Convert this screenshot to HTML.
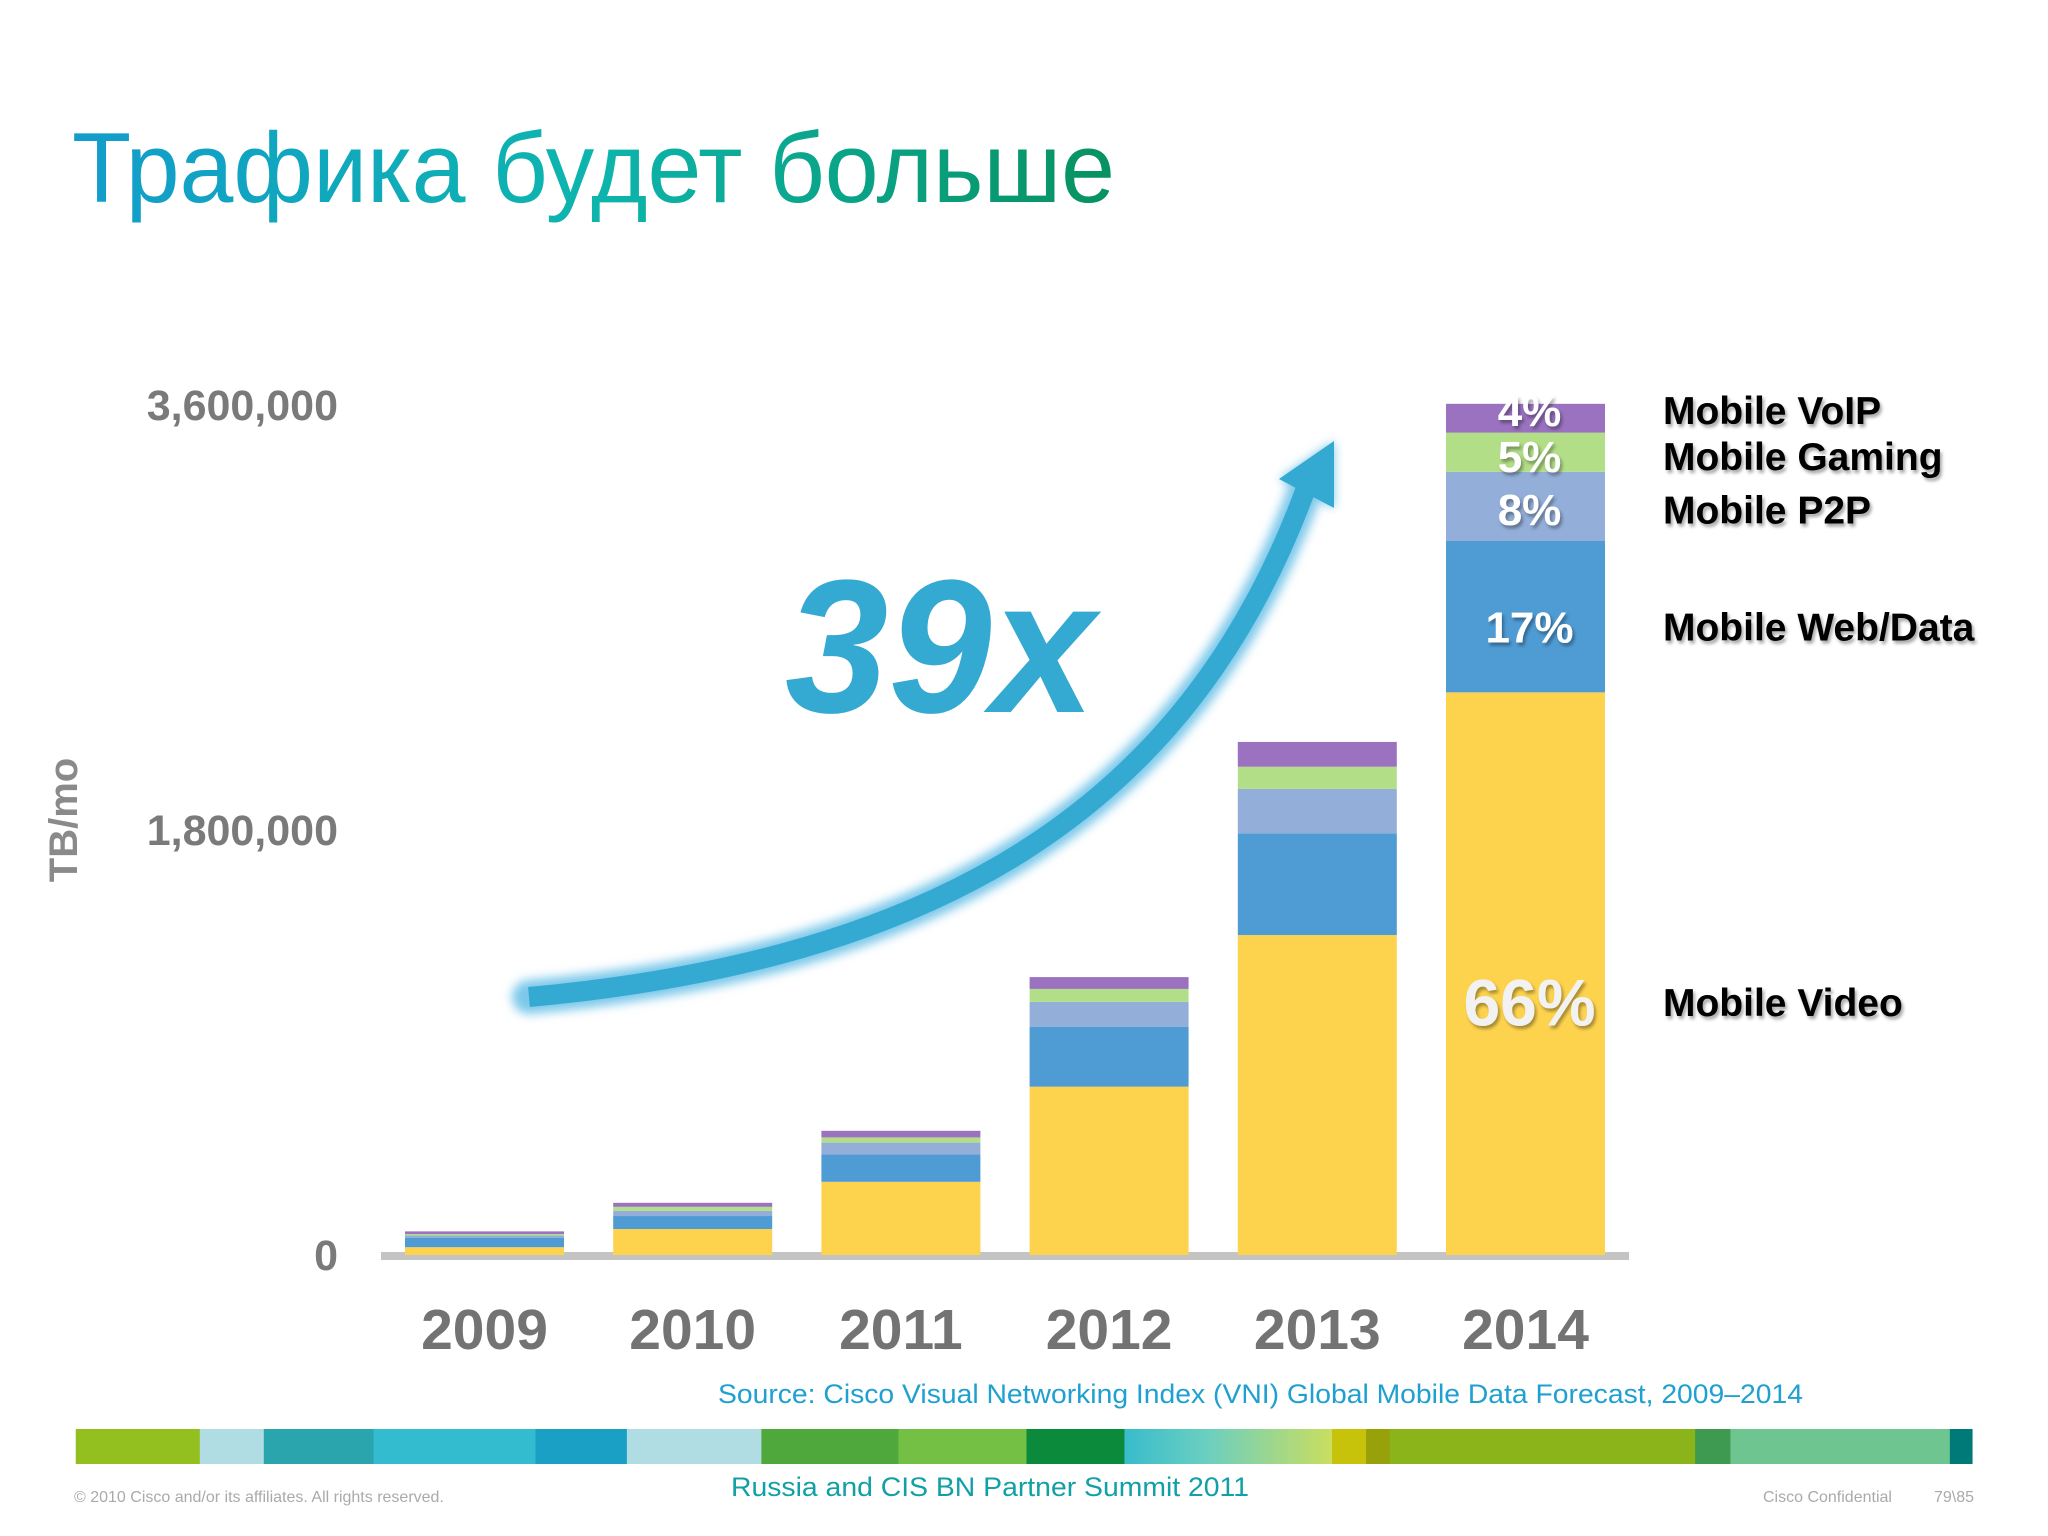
<!DOCTYPE html>
<html><head><meta charset="utf-8"><style>
body{margin:0;background:#fff}
svg{display:block}
text{font-family:"Liberation Sans","DejaVu Sans",sans-serif}
</style></head><body>
<svg id="chart" width="2048" height="1536" viewBox="0 0 2048 1536" xmlns="http://www.w3.org/2000/svg">
<defs>
<linearGradient id="tg" x1="0" x2="1" y1="0" y2="0"><stop offset="0" stop-color="#139ccc"/><stop offset="0.5" stop-color="#0db5ad"/><stop offset="1" stop-color="#079160"/></linearGradient>
<linearGradient id="sg" x1="0" x2="1"><stop offset="0" stop-color="#38bccb"/><stop offset="0.4" stop-color="#6ccfc0"/><stop offset="1" stop-color="#cade5e"/></linearGradient>
<filter id="glow" x="-20%" y="-20%" width="140%" height="140%"><feGaussianBlur stdDeviation="5"/></filter>
<filter id="sh" x="-10%" y="-10%" width="130%" height="140%"><feDropShadow dx="2" dy="3" stdDeviation="1.5" flood-color="#000" flood-opacity="0.35"/></filter>
</defs>
<text x="72" y="202" font-size="99" fill="url(#tg)" textLength="1043" lengthAdjust="spacingAndGlyphs">Трафика будет больше</text>
<g id="axes"></g>
<g id="bars"></g>
<g>
<path d="M529,997 C930,960 1185,815 1305,491" fill="none" stroke="#7cc8ea" stroke-width="34" filter="url(#glow)" stroke-linecap="round"/>
<polygon points="1334,441 1279,479 1334,508" fill="#7cc8ea" filter="url(#glow)"/>
<path d="M529,997 C930,960 1185,815 1305,491" fill="none" stroke="#34a9d2" stroke-width="20"/>
<polygon points="1334,441 1279,479 1334,508" fill="#34a9d2"/>
</g>
<text x="785" y="712" font-size="190" font-weight="bold" font-style="italic" fill="#34a9d2" textLength="310" lengthAdjust="spacingAndGlyphs">39x</text>
<text transform="translate(77,820) rotate(-90)" text-anchor="middle" font-size="40" font-weight="bold" fill="#8a8a8a">TB/mo</text>
<g id="legend"></g>
<text x="718" y="1403" font-size="27" fill="#1ea0d0" textLength="1085" lengthAdjust="spacingAndGlyphs">Source: Cisco Visual Networking Index (VNI) Global Mobile Data Forecast, 2009–2014</text>
<g id="strip"></g>
<text x="731" y="1496" font-size="27" fill="#10a0a6" textLength="518" lengthAdjust="spacingAndGlyphs">Russia and CIS BN Partner Summit 2011</text>
<text x="74" y="1502" font-size="16" fill="#aaaaaa">© 2010 Cisco and/or its affiliates. All rights reserved.</text>
<text x="1763" y="1502" font-size="16" fill="#aaaaaa">Cisco Confidential</text>
<text x="1934" y="1502" font-size="16" fill="#aaaaaa">79\85</text>
</svg>
<script>
const years = ["2009","2010","2011","2012","2013","2014"];
const video = [33000,110000,310000,713000,1355000,2383000];
const webData = [39000,55000,116000,254000,431000,641000];
const p2p = [11000,22000,50000,105000,188000,293000];
const gaming = [6000,17000,22000,55000,94000,166000];
const voip = [11000,17000,28000,50000,105000,122000];
const yTicks = [0,1800000,3600000];
const yTickLabels = ["0","1,800,000","3,600,000"];
const seriesNames = ["Mobile Video","Mobile Web/Data","Mobile P2P","Mobile Gaming","Mobile VoIP"];
const lastPct = ["66%","17%","8%","5%","4%"];

const NS="http://www.w3.org/2000/svg";
const y0=1255, yTop=405, yMax=3600000;
const y=v=>y0-(v/yMax)*(y0-yTop);
const x0=484.5, step=208.2, bw=159;
const xc=i=>x0+i*step;
function mk(tag,attrs,parent,txt){const e=document.createElementNS(NS,tag);for(const k in attrs)e.setAttribute(k,attrs[k]);if(txt!==undefined)e.textContent=txt;parent.appendChild(e);return e;}
const axes=document.getElementById('axes');
const baseline=mk('rect',{x:381,y:1252,width:1248,height:8,fill:'#c4c4c4'},axes);


yTicks.forEach((t,i)=>{
 const e=mk('text',{x:338,y:y(t)+15,'text-anchor':'end','font-size':43,'font-weight':'bold',fill:'#7a7a7a'},axes,yTickLabels[i]);
 
 
});
years.forEach((yr,i)=>{
 const e=mk('text',{x:xc(i),y:1349,'text-anchor':'middle','font-size':57,'font-weight':'bold',fill:'#737373'},axes,yr);
 
 
});
const series=[video,webData,p2p,gaming,voip];
const colors=["#fdd34e","#4f9bd4","#93aed8","#b3de88","#9a72c0"];
const keys=["video","web-data","p2p","gaming","voip"];
const bars=document.getElementById('bars');
years.forEach((yr,i)=>{
 let acc=0;
 series.forEach((s,k)=>{
  const r=mk('rect',{x:xc(i)-bw/2,y:y(acc+s[i]),width:bw,height:y(acc)-y(acc+s[i]),fill:colors[k]},bars);
  
  
  acc+=s[i];
 });
});
const legend=document.getElementById('legend');
const nudge=[0,10,3,4,-8];
let acc=0; const li=years.length-1;
series.forEach((s,k)=>{
 const h=y(acc)-y(acc+s[li]);
 let ly=(y(acc)+y(acc+s[li]))/2+nudge[k];
 if(k===0) ly=y(acc)-h*0.45;
 const fs=k===0?66:44;
 const p=mk('text',{x:xc(li)+4,y:ly+fs*0.36,'text-anchor':'middle','font-size':fs,'font-weight':'bold',fill:k===0?'#f2f2f2':'#ffffff',filter:'url(#sh)'},legend,lastPct[k]);
 
 
 const l=mk('text',{x:1663,y:ly+14,'font-size':39,'font-weight':'bold',fill:'#000',filter:'url(#sh)'},legend,seriesNames[k]);
 
 
 acc+=s[li];
});
const strip=document.getElementById('strip');
const segs=[[58,153,"#93c01f"],[153,202,"#b0dde4"],[202,286,"#2aa5ad"],[286,410,"#33bcd0"],[410,480,"#1aa0c4"],[480,583,"#b0dde4"],[583,688,"#4ea83c"],[688,786,"#74c044"],[786,861,"#0a8a3a"],[861,1020,"url(#sg)"],[1020,1046,"#c7c20a"],[1046,1064,"#98a00a"],[1064,1298,"#8ab41a"],[1298,1325,"#3e9a50"],[1325,1493,"#6fc590"],[1493,1510,"#007a78"]];
segs.forEach(s=>{
 const r=mk('rect',{x:s[0]*1.306,y:1429,width:(s[1]-s[0])*1.306+0.5,height:35,fill:s[2]},strip);
 
 
});
</script>
</body></html>
